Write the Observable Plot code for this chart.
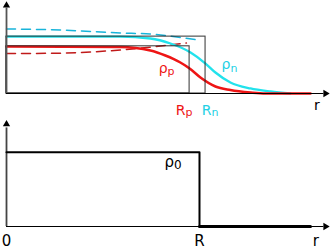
<!DOCTYPE html>
<html><head><meta charset="utf-8">
<script src="https://cdn.jsdelivr.net/npm/d3@7"></script>
<script src="https://cdn.jsdelivr.net/npm/@observablehq/plot@0.6"></script>
<style>
body{margin:0;background:#fff;}
#c{width:330px;height:250px;}
#c svg{display:block;overflow:visible;}
</style>
</head><body><div id="c"></div>
<script>
// ---- Top panel: diffuse density profiles (r arbitrary units, density relative to neutron box) ----
const Rn = 6.24, Rp = 5.74;
const boxR = [Rn, Rp];
const boxRho = [1.0, 0.83];
const neutronR   = [0, 3.57, 4.51, 5.14, 5.77, 6.24, 6.55, 7.02, 7.65, 8.28, 8.9];
const neutronRho = [1.0, 1.0, 0.967, 0.879, 0.721, 0.527, 0.369, 0.193, 0.088, 0.035, 0.0];
const protonR    = [0, 3.57, 4.51, 4.98, 5.45, 5.74, 6.08, 6.55, 7.02, 7.65, 8.12, 9.53];
const protonRho  = [0.826, 0.818, 0.756, 0.668, 0.545, 0.44, 0.281, 0.123, 0.062, 0.018, 0, 0];
const neutronDashR   = [0, 1.69, 3.57, 4.51, 5.45, 5.99];
const neutronDashRho = [1.134, 1.116, 1.064, 1.046, 0.985, 0.941];
const protonDashR    = [0, 1.69, 3.57, 4.98, 5.64];
const protonDashRho  = [0.703, 0.709, 0.765, 0.844, 0.888];
// ---- Bottom panel: uniform sphere ----
const R0 = 6.05, rho0 = 1.0, rTail = 9.53;
const stepR   = [0, R0, R0];
const stepRho = [rho0, rho0, 0];
const tailR   = [R0, rTail];
const tailRho = [0, 0];
// axis extents
const rMax = 10, topRhoMax = 1.55, botRhoMax = 1.38;
const bottomTicks = ["0", "R", "r"];
const bottomTickR = [0, R0, 9.7];

const red = "#ee1515", cyan = "#22e2ec", cyanText = "#22d0e4", redDash = "#c01a1a", cyanDash = "#18b4da";
const zip = (xs, ys) => xs.map((r, i) => ({r, rho: ys[i]}));
const font = "DejaVu Sans";

const topLabels = [
  {base: "ρ", sub: "p", r: 5.05, rho: 0.369, c: red},
  {base: "ρ", sub: "n", r: 7.02, rho: 0.422, c: cyanText}
];

const axes = (ymax, ylineColor) => [
  Plot.ruleY([0], {x1: 0, x2: rMax - 0.05, stroke: "#000", strokeWidth: 1}),
  Plot.ruleX([0], {y1: 0, y2: ymax - 0.05, stroke: ylineColor, strokeWidth: 1.8}),
  Plot.dot([{r: 0, rho: ymax}], {x: "r", y: "rho", symbol: "triangle", r: 2.7, fill: "#000", stroke: "none"}),
  Plot.dot([{r: rMax, rho: 0}], {x: "r", y: "rho", symbol: "triangle", r: 2.7, fill: "#000", stroke: "none", rotate: 90})
];

const radiusLabel = (R, sub, color, dx) => [
  Plot.text([R], {x: d => d, y: 0, text: () => "R", fill: color, textAnchor: "end", lineAnchor: "bottom", fontSize: 14, dy: 21, dx}),
  Plot.text([R], {x: d => d, y: 0, text: () => sub, fill: color, textAnchor: "start", lineAnchor: "bottom", fontSize: 11, dy: 22.5, dx})
];

const topChart = Plot.plot({
  width: 330, height: 120,
  marginLeft: 6, marginRight: 5, marginTop: 2, marginBottom: 27,
  x: {domain: [0, rMax], axis: null},
  y: {domain: [0, 1.6], axis: null},
  color: {type: "identity"},
  style: {fontFamily: font, background: "transparent", overflow: "visible"},
  marks: [
    Plot.line(zip(neutronDashR, neutronDashRho), {x: "r", y: "rho", stroke: cyanDash, strokeWidth: 1.5, strokeDasharray: "9,6", curve: "monotone-x"}),
    Plot.line(zip(protonDashR, protonDashRho), {x: "r", y: "rho", stroke: redDash, strokeWidth: 1.5, strokeDasharray: "9,6", curve: "monotone-x"}),
    Plot.line(zip(neutronR, neutronRho), {x: "r", y: "rho", stroke: cyan, strokeWidth: 2.3, curve: "monotone-x"}),
    Plot.line(zip(protonR, protonRho), {x: "r", y: "rho", stroke: red, strokeWidth: 2.5, curve: "monotone-x"}),
    Plot.rect(zip(boxR, boxRho), {x1: 0, x2: "r", y1: 0, y2: "rho", fill: "none", stroke: "#222", strokeWidth: 1.1, strokeOpacity: 0.85}),
    ...axes(topRhoMax, "#555"),
    Plot.text(topLabels, {x: "r", y: "rho", text: "base", fill: "c", textAnchor: "end", lineAnchor: "bottom", fontSize: 14}),
    Plot.text(topLabels, {x: "r", y: "rho", text: "sub", fill: "c", textAnchor: "start", lineAnchor: "bottom", fontSize: 11, dy: 2.5}),
    ...radiusLabel(Rp, "p", red, -4),
    ...radiusLabel(Rn, "n", cyanText, 6),
    Plot.text(["r"], {x: () => 9.73, y: 0, text: d => d, fill: "#000", textAnchor: "middle", lineAnchor: "bottom", fontSize: 14, dy: 16})
  ]
});

const bottomChart = Plot.plot({
  width: 330, height: 130,
  marginLeft: 6, marginRight: 5, marginTop: 0, marginBottom: 24,
  x: {domain: [0, rMax], axis: null},
  y: {domain: [0, 1.43], axis: null},
  style: {fontFamily: font, background: "transparent", overflow: "visible"},
  marks: [
    ...axes(botRhoMax, "#444"),
    Plot.line(zip(stepR, stepRho), {x: "r", y: "rho", stroke: "#000", strokeWidth: 2}),
    Plot.line(zip(tailR, tailRho), {x: "r", y: "rho", stroke: "#000", strokeWidth: 3}),
    Plot.text(["ρ"], {x: () => 5.25, y: () => 0.809, text: d => d, fill: "#000", textAnchor: "end", lineAnchor: "bottom", fontSize: 15}),
    Plot.text(["0"], {x: () => 5.25, y: () => 0.809, text: d => d, fill: "#000", textAnchor: "start", lineAnchor: "bottom", fontSize: 12, dy: 2}),
    Plot.text(bottomTicks, {x: bottomTickR, y: 0, text: d => d, fill: "#000", textAnchor: "middle", lineAnchor: "bottom", fontSize: 15, dy: 19})
  ]
});

document.getElementById("c").append(topChart, bottomChart);
</script>
</body></html>
